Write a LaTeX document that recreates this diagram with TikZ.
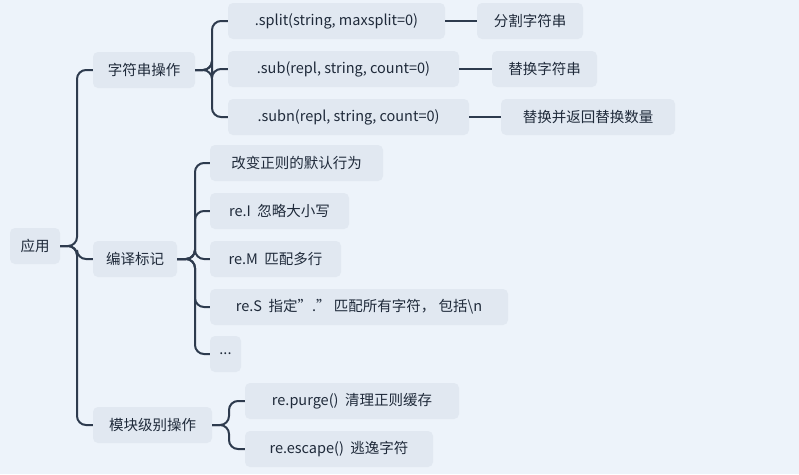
\documentclass[tikz,border=0pt]{standalone}
\usepackage{fontspec}
\setmainfont{Noto Sans CJK SC}
\begin{document}
\begin{tikzpicture}[x=1pt,y=-1pt,
  box/.style={fill=nodefill,rounded corners=5pt,minimum height=36pt,inner sep=0pt,font=\fontsize{14.5}{16}\selectfont,text=textcol},
  con/.style={draw=linecol,line width=2pt,rounded corners=9pt}]
\definecolor{bg}{HTML}{EDF3FA}
\definecolor{nodefill}{HTML}{E1E8F1}
\definecolor{linecol}{HTML}{2E3B4E}
\definecolor{textcol}{HTML}{1F2A3A}
\fill[bg] (0,0) rectangle (799,474);
\useasboundingbox (0,0) rectangle (799,474);
\newcommand\bx[5]{\node[box,minimum width=#3-#2] (#1) at ({(#2+#3)/2},#4) {#5};}
\bx{root}{10}{60}{246}{应用}
\bx{a}{93}{195}{70}{字符串操作}
\bx{b}{93}{177}{259}{编译标记}
\bx{c}{93}{212}{425}{模块级别操作}
\bx{a1}{228}{445}{21}{.split(string, maxsplit=0)}
\bx{a1l}{477}{583}{21}{分割字符串}
\bx{a2}{228}{459}{69}{.sub(repl, string, count=0)}
\bx{a2l}{492}{597}{69}{替换字符串}
\bx{a3}{228}{469}{117}{.subn(repl, string, count=0)}
\bx{a3l}{501}{675}{117}{替换并返回替换数量}
\bx{b1}{210}{383}{163}{改变正则的默认行为}
\bx{b2}{210}{349}{211}{re.I\ \ 忽略大小写}
\bx{b3}{210}{341}{259}{re.M\ \ 匹配多行}
\bx{b4}{210}{508}{307}{re.S\ \ 指定"." 匹配所有字符，\ 包括\textbackslash n}
\bx{b5}{210}{241}{354}{...}
\bx{c1}{245}{459}{401}{re.purge()\ \ 清理正则缓存}
\bx{c2}{245}{433}{449}{re.escape()\ \ 逃逸字符}
\foreach \n in {a,b,c} \draw[con] (root.east) -- (77,246) |- (\n.west);
\foreach \n in {a1,a2,a3} \draw[con] (a.east) -- (212,70) |- (\n.west);
\foreach \n in {b1,b2,b3,b4,b5} \draw[con] (b.east) -- (195,259) |- (\n.west);
\foreach \n in {c1,c2} \draw[con] (c.east) -- (229,425) |- (\n.west);
\draw[con] (a1) -- (a1l); \draw[con] (a2) -- (a2l); \draw[con] (a3) -- (a3l);
\end{tikzpicture}
\end{document}
